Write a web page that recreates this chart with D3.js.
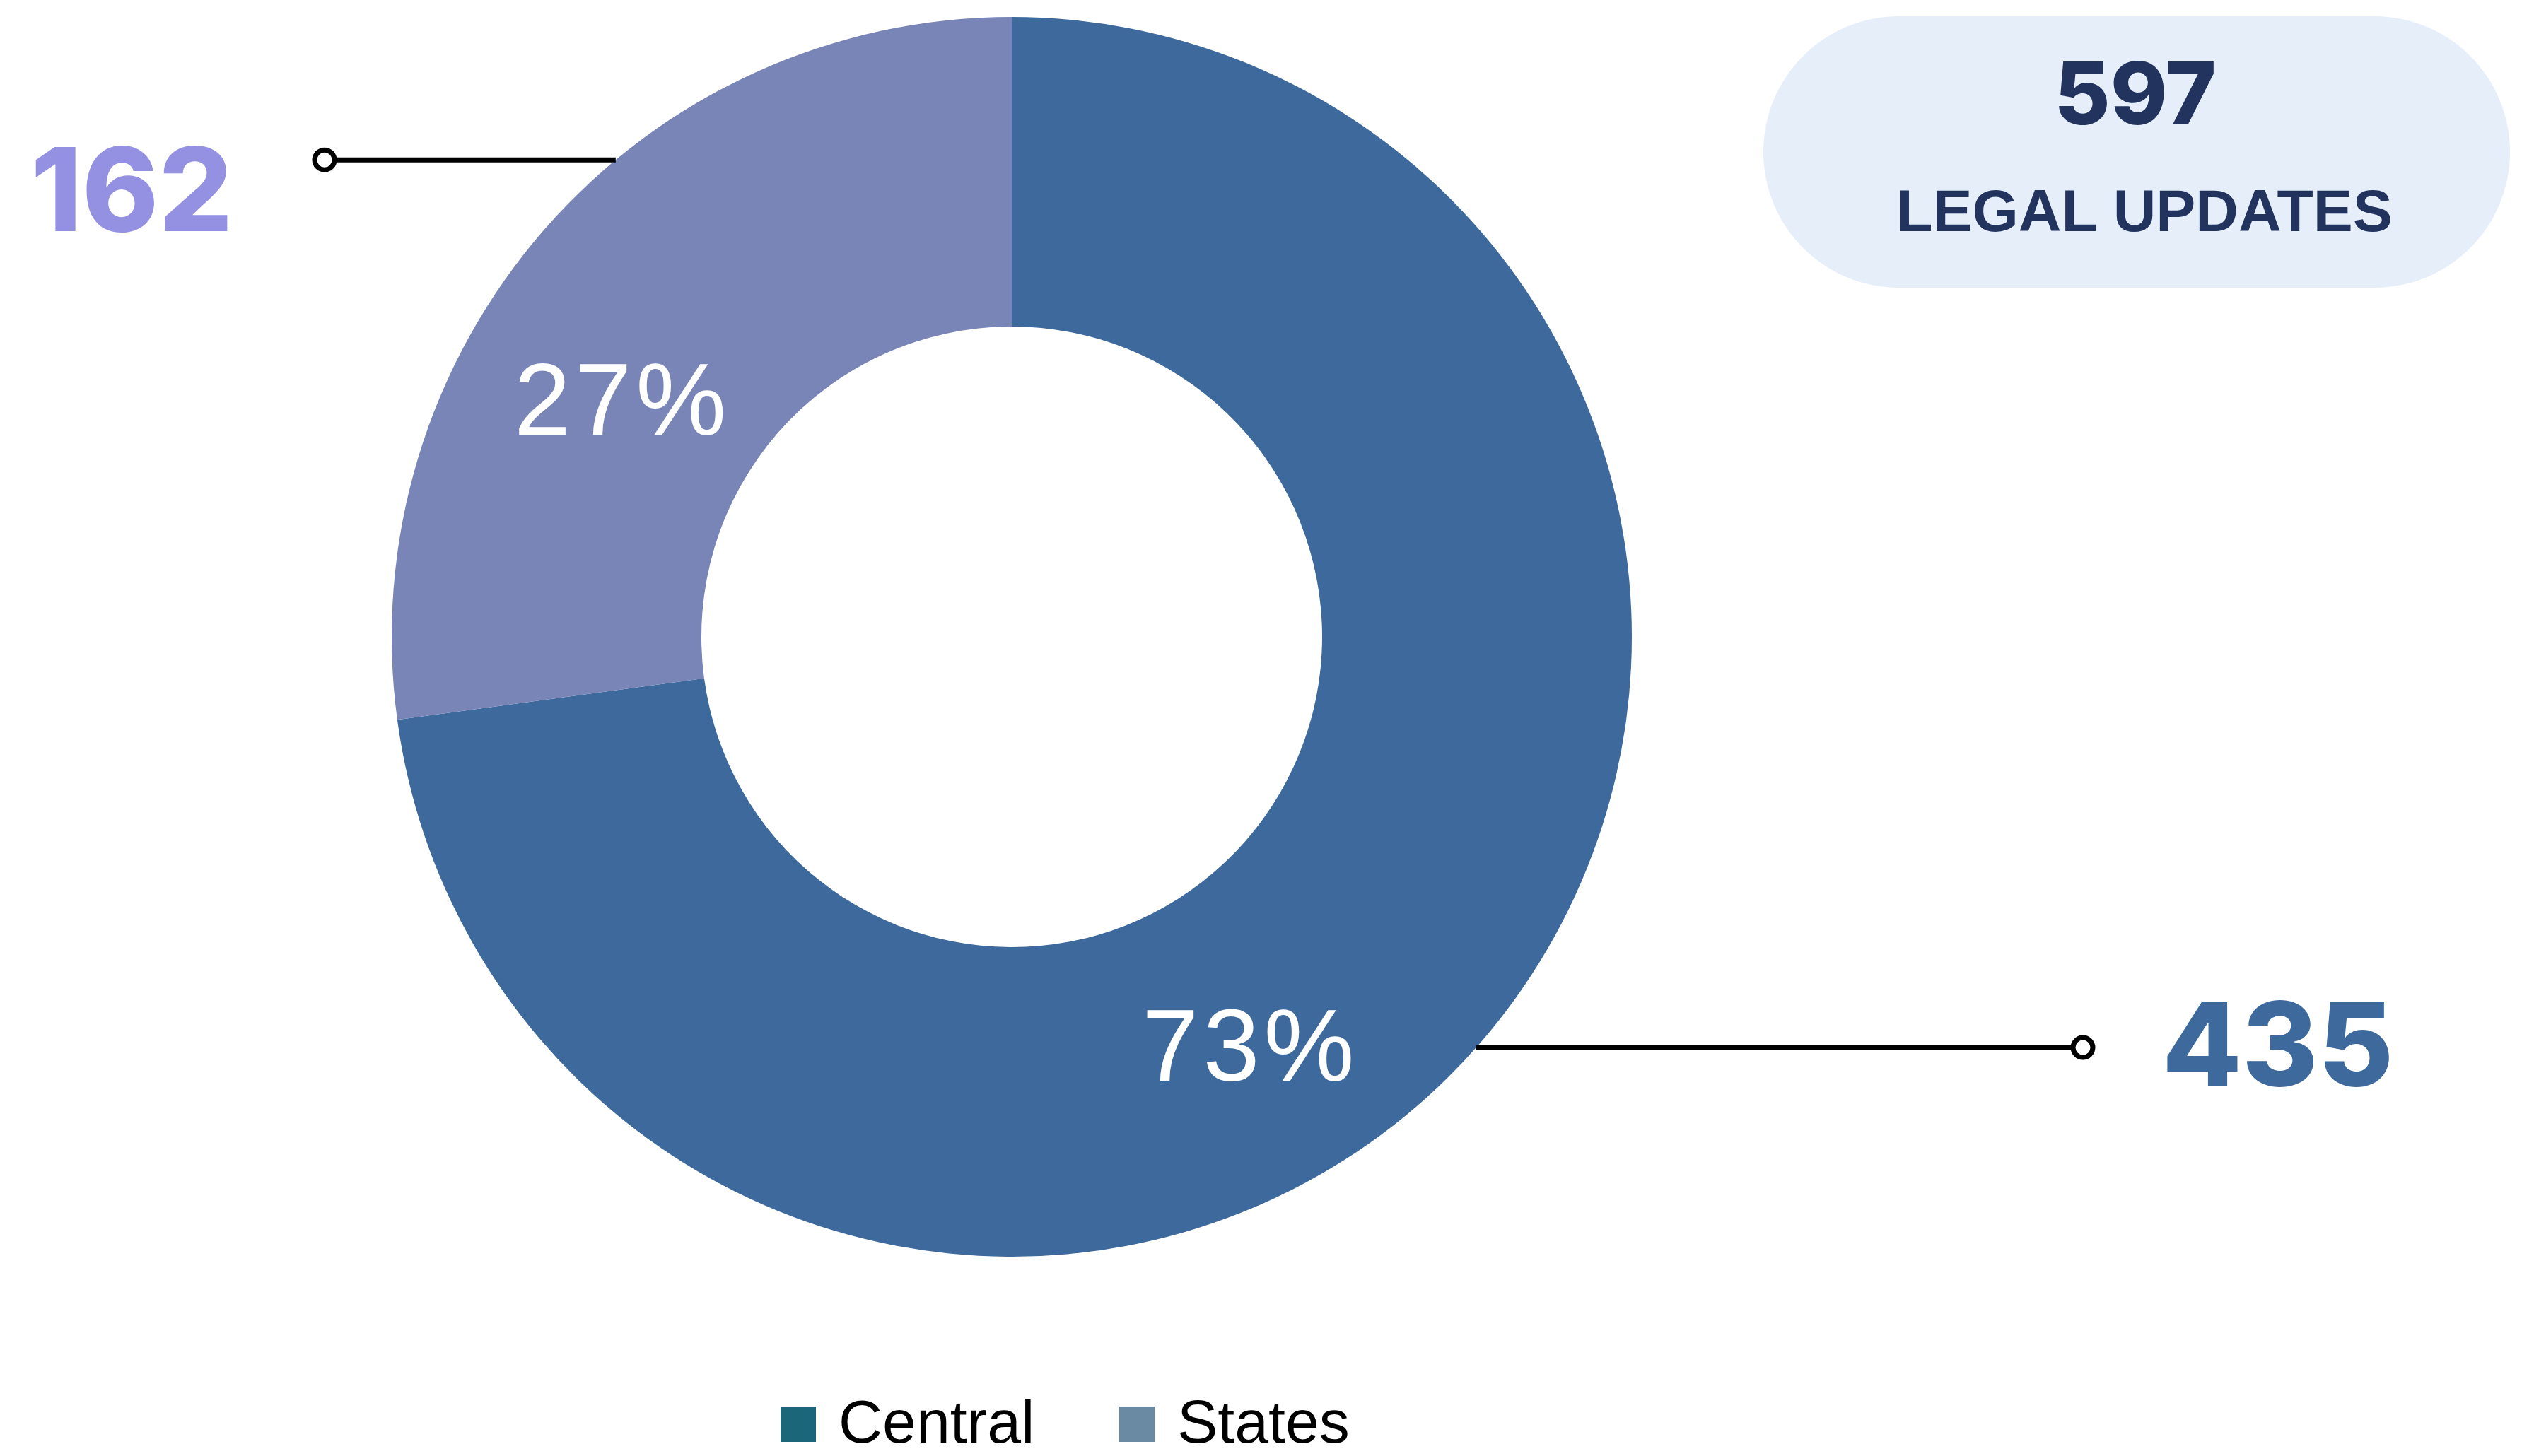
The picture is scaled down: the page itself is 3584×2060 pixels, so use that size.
<!DOCTYPE html>
<html>
<head>
<meta charset="utf-8">
<script src="https://cdn.jsdelivr.net/npm/d3@7"></script>
<style>
  html, body { margin: 0; padding: 0; background: #ffffff; }
  svg { display: block; }
</style>
</head>
<body>
<script>
// ---- data ----
const categories = ["Central", "States"];
const values = [435, 162];
const totalLabel = "597";
const totalCaption = "LEGAL UPDATES";
const legendColors = ["#1b6678", "#6a89a2"];
const sliceColors = ["#3d699c", "#7984b7"];
const numberColors = ["#3d699c", "#9591e2"];

// ---- layout ----
const W = 3584, H = 2060;
const cx = 1431, cy = 901;
const outerR = 877, innerR = 439;
const numFont = "Inter, 'Liberation Sans', Arial, sans-serif";
const textFont = "'Liberation Sans', Arial, sans-serif";

const svg = d3.select("body").append("svg")
  .attr("width", W).attr("height", H)
  .attr("viewBox", `0 0 ${W} ${H}`);

const data = categories.map((c, i) => ({ name: c, value: values[i], i }));
const pie = d3.pie().value(d => d.value).sort(null);
const arcs = pie(data);
const arc = d3.arc().innerRadius(innerR).outerRadius(outerR);
const total = d3.sum(values);

const g = svg.append("g").attr("transform", `translate(${cx},${cy})`);
g.selectAll("path.slice").data(arcs).enter().append("path")
  .attr("class", "slice")
  .attr("d", arc)
  .attr("fill", d => sliceColors[d.data.i]);

// percentage labels (angle shift in degrees relative to the slice mid-angle)
const labelShift = [18.6, -9.8];
const labelRadius = [670, 645];
g.selectAll("text.pct").data(arcs).enter().append("text")
  .attr("class", "pct")
  .each(function(d) {
    const a = (d.startAngle + d.endAngle) / 2 + labelShift[d.data.i] * Math.PI / 180;
    const r = labelRadius[d.data.i];
    d3.select(this)
      .attr("x", r * Math.sin(a))
      .attr("y", -r * Math.cos(a));
  })
  .attr("text-anchor", "middle")
  .attr("dominant-baseline", "central")
  .attr("font-family", textFont)
  .attr("font-size", 144)
  .attr("letter-spacing", 6)
  .attr("fill", "#ffffff")
  .text(d => Math.round(d.value / total * 100) + "%");

// callouts
const calloutAngle = [131.5, 320.3];      // degrees on the ring where the leader starts
const calloutEndX = [2946, 459];          // absolute x of the end marker
const side = [1, -1];
arcs.forEach(d => {
  const i = d.data.i;
  const a = calloutAngle[i] * Math.PI / 180;
  const px = cx + outerR * Math.sin(a);
  const py = cy - outerR * Math.cos(a);
  svg.append("line")
    .attr("x1", px).attr("y1", py)
    .attr("x2", calloutEndX[i]).attr("y2", py)
    .attr("stroke", "#000").attr("stroke-width", 7);
  svg.append("circle")
    .attr("cx", calloutEndX[i]).attr("cy", py)
    .attr("r", 14)
    .attr("fill", "#fff").attr("stroke", "#000").attr("stroke-width", 7);
  const t = svg.append("text")
    .attr("font-family", numFont)
    .attr("font-weight", 800)
    .attr("font-size", 164)
    .attr("fill", numberColors[i])
    .text(d.value);
  if (side[i] > 0) {
    t.attr("x", calloutEndX[i] + 112).attr("y", py + 54).attr("text-anchor", "start");
  } else {
    t.attr("x", calloutEndX[i] - 130).attr("y", py + 101).attr("text-anchor", "end");
  }
});

// total pill
const pill = { x: 2494, y: 23, w: 1056, h: 384 };
svg.append("rect")
  .attr("x", pill.x).attr("y", pill.y)
  .attr("width", pill.w).attr("height", pill.h)
  .attr("rx", pill.h / 2).attr("ry", pill.h / 2)
  .attr("fill", "#e5eef9");
svg.append("text")
  .attr("x", pill.x + pill.w / 2 - 2).attr("y", 176)
  .attr("text-anchor", "middle")
  .attr("font-family", numFont)
  .attr("font-weight", 800)
  .attr("font-size", 122)
  .attr("fill", "#22335e")
  .text(totalLabel);
svg.append("text")
  .attr("x", pill.x + pill.w / 2 + 11).attr("y", 327)
  .attr("text-anchor", "middle")
  .attr("font-family", textFont)
  .attr("font-weight", "bold")
  .attr("font-size", 84)
  .attr("fill", "#22335e")
  .text(totalCaption);

// legend
const legendX = [1104, 1583];
const legend = svg.append("g");
categories.forEach((c, i) => {
  legend.append("rect")
    .attr("x", legendX[i]).attr("y", 1990)
    .attr("width", 50).attr("height", 50)
    .attr("fill", legendColors[i]);
  legend.append("text")
    .attr("x", legendX[i] + 82).attr("y", 2041)
    .attr("font-family", textFont)
    .attr("font-size", 86)
    .attr("fill", "#000")
    .text(c);
});
</script>
</body>
</html>
